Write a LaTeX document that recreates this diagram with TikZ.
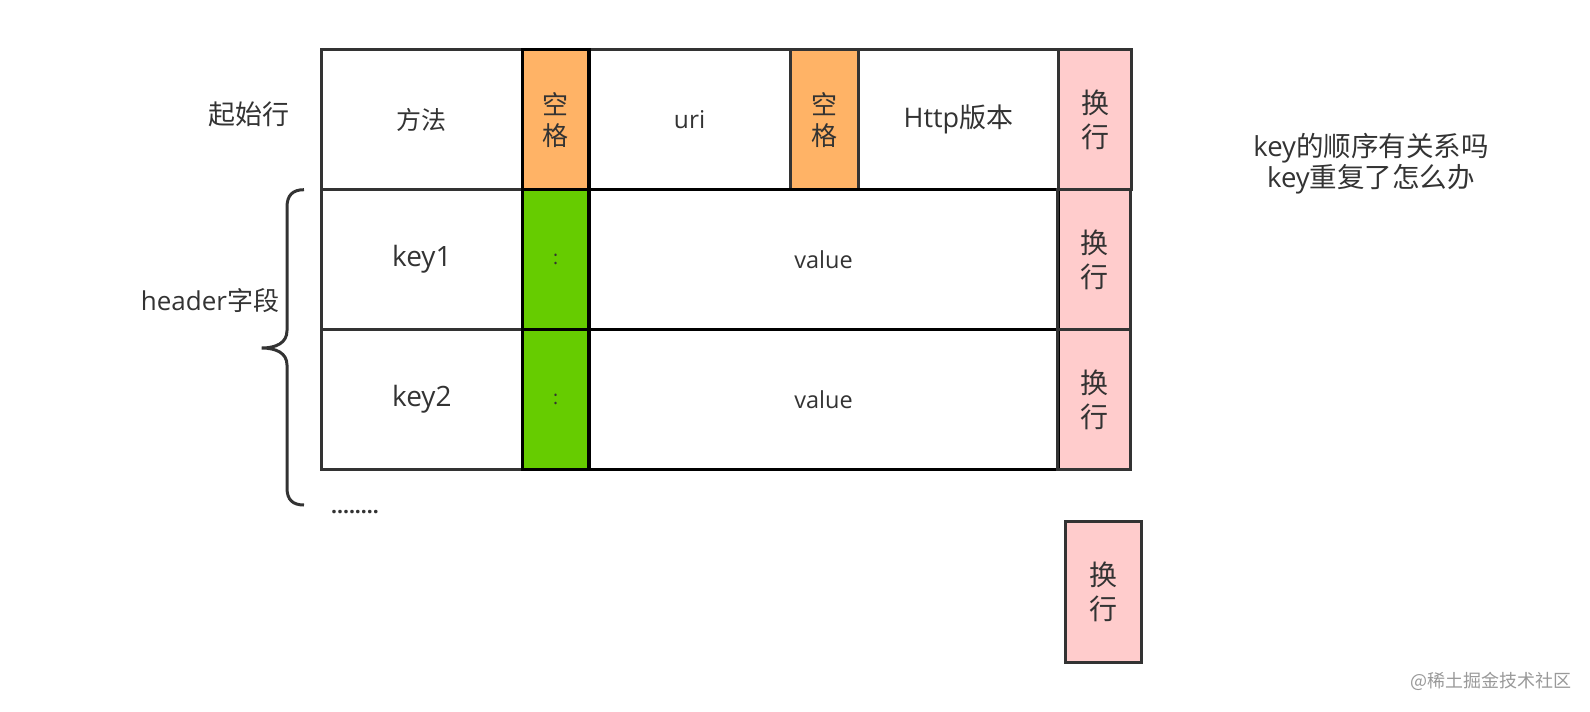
\documentclass[tikz,border=0pt]{standalone}
\usepackage{fontspec}
\setmainfont{Open Sans}
\newfontfamily\cjk{Noto Sans CJK SC}
\usetikzlibrary{positioning}

\definecolor{linegray}{HTML}{333333}
\definecolor{textgray}{HTML}{333333}
\definecolor{spacefill}{HTML}{FFB366}
\definecolor{colonfill}{HTML}{66CC00}
\definecolor{breakfill}{HTML}{FFCCCC}

\begin{document}
\begin{tikzpicture}[
    x=1pt, y=-1pt,
    node distance=0pt,
    cell/.style={rectangle, draw=linegray, line width=3pt, minimum height=140pt, inner sep=0pt, outer sep=0pt, text=textgray, align=center, font=\fontsize{25}{30}\selectfont},
    wide/.style={cell, minimum width=200.8pt},
    spacebox/.style={cell, minimum width=66.9pt, fill=spacefill, font=\cjk\fontsize{26}{31}\selectfont},
    colonbox/.style={cell, minimum width=66.9pt, fill=colonfill, font=\fontsize{19}{22}\selectfont},
    valuebox/.style={cell, minimum width=468.6pt, font=\fontsize{23.5}{28}\selectfont},
    breakbox/.style={cell, minimum width=73pt, fill=breakfill, font=\cjk\fontsize{28}{34}\selectfont},
    textlbl/.style={text=textgray, font=\fontsize{26}{31}\selectfont, align=center, inner sep=0pt},
    blackframe/.style={draw=black, line width=3.5pt},
    grayframe/.style={draw=linegray, line width=3pt}
    ]
    \useasboundingbox (0,0) rectangle (1590,712);

    % start line
    \node[wide, anchor=north west] (method) at (321.5,49.7) {{\cjk 方法}};
    \node[spacebox, right=of method] (sp1) {空\\格};
    \node[wide, right=of sp1, font=\fontsize{24.5}{30}\selectfont] (uri) {uri};
    \node[spacebox, right=of uri, minimum width=68pt] (sp2) {空\\格};
    \node[wide, right=of sp2, font=\fontsize{27}{30}\selectfont] (ver) {Http{\cjk 版本}};
    \node[breakbox, right=of ver] (nl1) {换\\行};

    % header lines
    \node[wide, below=of method, font=\fontsize{28}{30}\selectfont] (key1) {key1};
    \node[colonbox, right=of key1] (col1) {:};
    \node[valuebox, right=of col1] (val1) {value};
    \node[breakbox, right=of val1] (nl2) {换\\行};

    \node[wide, below=of key1, font=\fontsize{28}{30}\selectfont] (key2) {key2};
    \node[colonbox, right=of key2] (col2) {:};
    \node[valuebox, right=of col2] (val2) {value};
    \node[breakbox, right=of val2] (nl3) {换\\行};

    % frames on top
    \foreach \n in {sp1,col1,col2,val1,val2}
        \draw[blackframe] (\n.north west) rectangle (\n.south east);
    \foreach \n in {nl1,nl2,nl3}
        \draw[grayframe] (\n.north west) rectangle (\n.south east);

    % empty line
    \node[breakbox, anchor=north west, minimum width=76pt, minimum height=141pt] (nl4) at (1065,521.3) {换\\行};

    % labels
    \node[textlbl, font=\cjk\fontsize{27}{31}\selectfont] (startlbl) at (248.5,114.6) {起始行};
    \node[textlbl] (headerlbl) at (210,301) {header{\cjk 字段}};
    \node[textlbl, font=\bfseries\fontsize{21}{24}\selectfont] (more) at (355,512) {........};
    \node[textlbl, font=\fontsize{27.5}{31}\selectfont] (question) at (1371,164) {key{\cjk 的顺序有关系吗}\\key{\cjk 重复了怎么办}};
    \node[textlbl, text=black!40, font=\cjk\fontsize{18}{22}\selectfont] (mark) at (1491,681.5) {@稀土掘金技术社区};

    % brace
    \draw[linegray, line width=3pt] (304,189.7) .. controls (293,189.7) and (287,195) .. (287,207)
        -- (287,330.6) .. controls (287,343) and (276,348) .. (261.7,348)
        .. controls (276,348) and (287,353) .. (287,365)
        -- (287,488) .. controls (287,500) and (293,505) .. (304,505);
\end{tikzpicture}
\end{document}
